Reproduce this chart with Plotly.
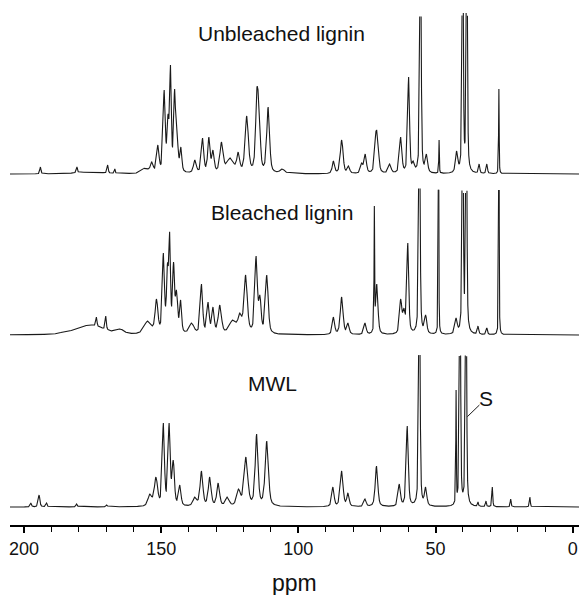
import numpy as np
import plotly.graph_objects as go

# ---------------- data ----------------
# Unbleached lignin: peak position (ppm), apparent height, half width (ppm)
unb_ppm = [194.0, 180.7, 169.5, 166.9, 176.0, 155.9, 153.4, 151.2, 148.9, 147.5, 146.6, 145.1, 144.2, 142.8,
           137.7, 134.9, 132.6, 131.1, 128.0, 124.8, 121.9, 118.8, 115.1, 114.3, 111.0, 105.8,
           87.2, 84.2, 81.7, 76.9, 75.6, 71.8, 71.1, 66.7, 62.7, 59.8, 58.1, 55.5, 53.3, 48.7,
           42.3, 40.1, 38.6, 34.1, 31.3, 26.9]
unb_h = [7, 7, 9, 5, 2, 6, 12, 29, 84, 60, 109, 85, 39, 27,
         14, 36, 37, 24, 32, 16, 22, 58, 86, 76, 67, 5,
         13, 34, 8, 11, 20, 41, 41, 10, 37, 97, 13, 260, 20, 34,
         23, 300, 300, 10, 10, 85]
unb_w = [0.25, 0.25, 0.25, 0.2, 6.0, 1.5, 0.6, 0.5, 0.45, 0.4, 0.35, 0.4, 0.5, 0.4,
         0.6, 0.5, 0.5, 0.5, 0.7, 1.5, 0.6, 0.7, 0.55, 0.5, 0.6, 1.0,
         0.5, 0.6, 0.5, 0.5, 0.5, 0.5, 0.5, 0.6, 0.5, 0.4, 0.5, 0.3, 0.5, 0.12,
         0.5, 0.25, 0.25, 0.3, 0.3, 0.12]

# Bleached lignin
ble_ppm = [185.0, 177.9, 175.9, 173.6, 170.2, 164.9, 154.9, 151.7, 149.2, 147.7, 146.9, 145.5, 144.4, 142.9,
           138.9, 135.3, 132.9, 131.1, 128.6, 123.9, 121.3, 119.2, 115.4, 114.0, 111.5,
           87.2, 84.2, 81.9, 75.7, 72.3, 71.4, 62.7, 61.5, 60.1, 55.9, 53.6, 48.9,
           42.5, 40.1, 38.8, 34.5, 31.3, 26.9]
ble_h = [4, 9, 10, 18, 19, 6, 14, 36, 82, 72, 103, 73, 45, 35,
         12, 51, 33, 28, 30, 15, 22, 60, 79, 40, 60,
         18, 38, 12, 12, 129, 51, 36, 27, 92, 260, 20, 240,
         17, 300, 300, 9, 7, 240]
ble_w = [1.5, 1.5, 6.0, 0.25, 0.25, 1.5, 1.5, 0.6, 0.45, 0.4, 0.35, 0.4, 0.5, 0.4,
         1.0, 0.5, 0.5, 0.5, 0.7, 1.5, 0.8, 0.7, 0.55, 0.5, 0.6,
         0.5, 0.6, 0.5, 0.5, 0.12, 0.5, 0.5, 0.5, 0.4, 0.3, 0.5, 0.12,
         0.5, 0.25, 0.25, 0.3, 0.3, 0.12]

# MWL
mwl_ppm = [197.5, 194.5, 191.8, 180.8, 169.8, 154.1, 151.9, 149.2, 147.1, 145.6, 143.2,
           137.7, 135.3, 132.3, 129.2, 125.9, 121.8, 119.1, 115.2, 111.5,
           87.4, 84.2, 81.9, 75.7, 71.5, 63.2, 60.3, 55.9, 53.6,
           42.5, 41.1, 38.9, 34.5, 31.6, 29.3, 22.6, 15.6]
mwl_h = [4, 12, 4, 3, 2, 13, 30, 84, 84, 47, 22,
         10, 36, 30, 24, 10, 18, 50, 73, 66,
         20, 36, 14, 8, 41, 23, 81, 260, 20,
         117, 300, 300, 5, 6, 20, 8, 10]
mwl_w = [0.3, 0.35, 0.3, 0.3, 0.3, 0.8, 0.7, 0.45, 0.45, 0.5, 0.5,
         0.8, 0.6, 0.6, 0.6, 0.8, 0.8, 0.8, 0.6, 0.7,
         0.5, 0.6, 0.5, 0.5, 0.55, 0.5, 0.45, 0.3, 0.5,
         0.12, 0.25, 0.25, 0.2, 0.2, 0.2, 0.2, 0.2]

labels = ["Unbleached lignin", "Bleached lignin", "MWL"]
tick_vals = [200, 150, 100, 50, 0]
tick_text = ["200", "150", "100", "50", "0"]

# ---------------- layout parameters ----------------
offsets = [351, 190, 18]      # vertical stacking of the spectra
clips = [162, 147, 154]       # plotted height limit of each spectrum
grid = np.arange(-2.5, 205.5, 0.01)


def shape(x, pos, w):
    d = (np.asarray(x)[:, None] - np.asarray(pos)[None, :]) / np.asarray(w)[None, :]
    return 0.5 / (1 + d ** 2) + 0.5 * np.exp(-np.log(2) * d ** 2)


def build(pos, h, w):
    pos = np.array(pos, float)
    h = np.array(h, float)
    w = np.array(w, float)
    A = shape(pos, pos, w)
    amp = h.copy()
    for _ in range(200):
        model = A @ amp
        amp *= h / model
    return shape(grid, pos, w) @ amp


fig = go.Figure()
for (p, h, w), off, clip in zip([(unb_ppm, unb_h, unb_w), (ble_ppm, ble_h, ble_w), (mwl_ppm, mwl_h, mwl_w)],
                                offsets, clips):
    s = build(p, h, w)
    y = np.where(s <= clip, s + off, np.nan)
    fig.add_trace(go.Scatter(x=grid, y=y, mode="lines", connectgaps=False,
                             line=dict(color="#1a1a1a", width=1.1), hoverinfo="skip",
                             showlegend=False))

font = dict(family="Liberation Sans, Arial, sans-serif", color="#111111")
ann = []
for text, xp, yp in zip(labels, [106.0, 106.0, 109.6], [492, 313, 142]):
    ann.append(dict(x=xp, y=yp, xref="x", yref="y", text=text, showarrow=False,
                    font=dict(size=21, **font)))
ann.append(dict(x=31.6, y=127, xref="x", yref="y", text="S", showarrow=False, font=dict(size=21, **font)))
ann.append(dict(x=101.4, y=-0.1105, xref="x", yref="paper", text="ppm", showarrow=False,
                xanchor="center", yanchor="middle", font=dict(size=23, **font)))

fig.add_shape(type="line", x0=34.0, y0=120, x1=38.4, y1=108.3, xref="x", yref="y",
              line=dict(color="#1a1a1a", width=1))

fig.update_layout(
    width=579, height=595,
    margin=dict(l=10, r=0, t=0, b=70),
    paper_bgcolor="white", plot_bgcolor="white",
    annotations=ann,
    hovermode=False,
    xaxis=dict(range=[205.1, -2.3], showline=True, linecolor="black", linewidth=2,
               tickvals=tick_vals, ticktext=tick_text, ticks="outside", ticklen=6, tickwidth=1.5,
               tickcolor="black", showgrid=False, zeroline=False,
               tickfont=dict(size=18, **font), automargin=False,
               minor=dict(dtick=10, tick0=0, ticks="outside", ticklen=5, tickwidth=1.2,
                          tickcolor="black", showgrid=False)),
    yaxis=dict(range=[0, 525], visible=False, fixedrange=True),
)

fig.write_html("out.html", config={"displayModeBar": False},
               post_script="document.body.style.margin='0';")
